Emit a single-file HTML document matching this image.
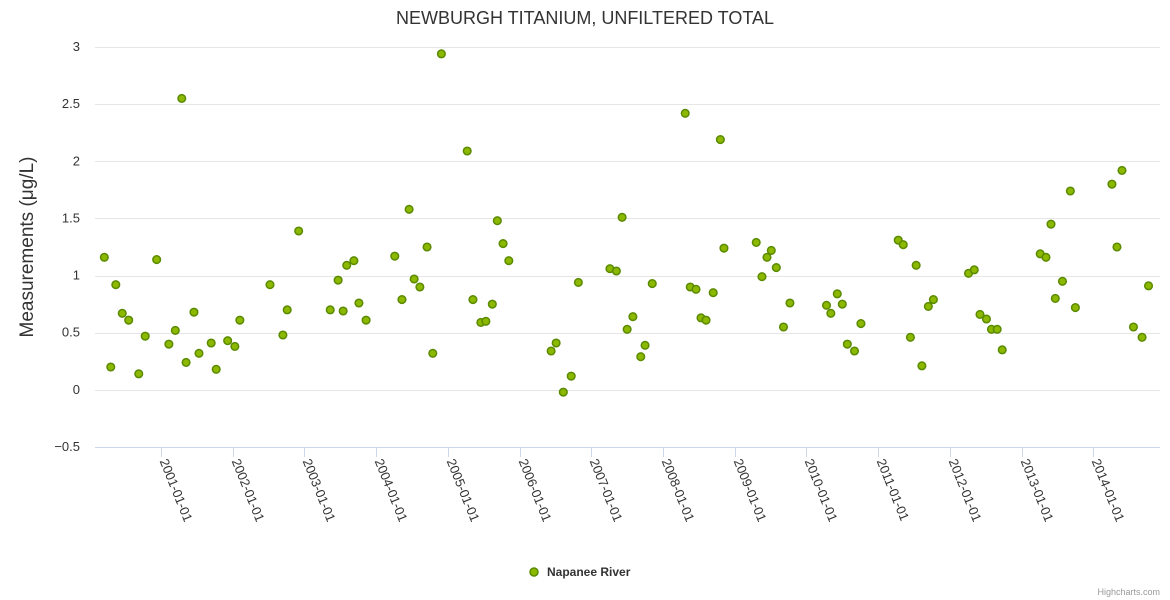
<!DOCTYPE html>
<html>
<head>
<meta charset="utf-8">
<style>
  html, body { margin: 0; padding: 0; background: #fff; }
  svg { display: block; font-family: "Liberation Sans", "DejaVu Sans", sans-serif; }
</style>
</head>
<body>
<svg id="chart" width="1170" height="600" viewBox="0 0 1170 600" xmlns="http://www.w3.org/2000/svg">
  <text x="585" y="24" text-anchor="middle" font-size="18" fill="#333">NEWBURGH TITANIUM, UNFILTERED TOTAL</text>
  <g id="grid"></g>
  <g id="yaxis"></g>
  <g id="xaxis"></g>
  <text transform="translate(33,247) rotate(-90)" text-anchor="middle" font-size="19" fill="#333">Measurements (μg/L)</text>
  <g id="points"></g>
  <g>
    <circle cx="534" cy="572" r="4" fill="#8cb800" stroke="#5a8a00" stroke-width="1.5"></circle>
    <text x="547" y="576" font-size="12" font-weight="bold" fill="#333">Napanee River</text>
  </g>
  <text x="1160" y="595" text-anchor="end" font-size="9" fill="#999">Highcharts.com</text>
</svg>
<script>
const years = [2000.21,2000.30,2000.37,2000.46,2000.55,2000.69,2000.78,2000.94,2001.11,2001.20,2001.29,2001.35,2001.46,2001.53,2001.70,2001.77,2001.93,2002.03,2002.10,2002.52,2002.70,2002.76,2002.92,2003.36,2003.47,2003.54,2003.59,2003.69,2003.76,2003.86,2004.26,2004.36,2004.46,2004.53,2004.61,2004.71,2004.79,2004.91,2005.27,2005.35,2005.46,2005.53,2005.62,2005.69,2005.77,2005.85,2006.44,2006.51,2006.61,2006.72,2006.82,2007.26,2007.35,2007.43,2007.50,2007.58,2007.69,2007.75,2007.85,2008.31,2008.38,2008.46,2008.53,2008.60,2008.70,2008.80,2008.85,2009.30,2009.38,2009.45,2009.51,2009.58,2009.68,2009.77,2010.28,2010.34,2010.43,2010.50,2010.57,2010.67,2010.76,2011.28,2011.35,2011.45,2011.53,2011.61,2011.70,2011.77,2012.26,2012.34,2012.42,2012.51,2012.58,2012.66,2012.73,2013.26,2013.34,2013.41,2013.47,2013.57,2013.68,2013.75,2014.26,2014.33,2014.40,2014.56,2014.68,2014.77];
const values = [1.16,0.2,0.92,0.67,0.61,0.14,0.47,1.14,0.4,0.52,2.55,0.24,0.68,0.32,0.41,0.18,0.43,0.38,0.61,0.92,0.48,0.70,1.39,0.70,0.96,0.69,1.09,1.13,0.76,0.61,1.17,0.79,1.58,0.97,0.90,1.25,0.32,2.94,2.09,0.79,0.59,0.60,0.75,1.48,1.28,1.13,0.34,0.41,-0.02,0.12,0.94,1.06,1.04,1.51,0.53,0.64,0.29,0.39,0.93,2.42,0.90,0.88,0.63,0.61,0.85,2.19,1.24,1.29,0.99,1.16,1.22,1.07,0.55,0.76,0.74,0.67,0.84,0.75,0.40,0.34,0.58,1.31,1.27,0.46,1.09,0.21,0.73,0.79,1.02,1.05,0.66,0.62,0.53,0.53,0.35,1.19,1.16,1.45,0.80,0.95,1.74,0.72,1.80,1.25,1.92,0.55,0.46,0.91];
const yTicks = [-0.5,0,0.5,1,1.5,2,2.5,3];
const xTickYears = [2001,2002,2003,2004,2005,2006,2007,2008,2009,2010,2011,2012,2013,2014];

const NS = "http://www.w3.org/2000/svg";
const plotL = 95, plotR = 1160, plotT = 47, plotB = 447;
const xMin = 2000.08, xMax = 2014.93, yMin = -0.5, yMax = 3;
function xs(v){ return plotL + (v - xMin) / (xMax - xMin) * (plotR - plotL); }
function ys(v){ return plotB - (v - yMin) / (yMax - yMin) * (plotB - plotT); }
function mk(tag, attrs){ const e = document.createElementNS(NS, tag); for (const k in attrs) e.setAttribute(k, attrs[k]); return e; }

const grid = document.getElementById('grid');
const yaxis = document.getElementById('yaxis');
yTicks.forEach(t => {
  const y = Math.round(ys(t)) + 0.5;
  const ln = mk('line', {x1: plotL, x2: plotR, y1: y, y2: y, stroke: t === yMin ? '#ccd6eb' : '#e6e6e6', 'stroke-width': 1});
  
  
  grid.appendChild(ln);
  const tx = mk('text', {x: 80, y: ys(t) + 4, 'text-anchor': 'end', 'font-size': 13, fill: '#333'});
  tx.textContent = t === 0 ? '0' : (t < 0 ? '−' + Math.abs(t) : String(t));
  
  
  yaxis.appendChild(tx);
});

const xaxis = document.getElementById('xaxis');
xTickYears.forEach(yr => {
  const x = Math.round(xs(yr)) + 0.5;
  const tk = mk('line', {x1: x, x2: x, y1: plotB, y2: plotB + 10, stroke: '#ccd6eb', 'stroke-width': 1});
  
  
  xaxis.appendChild(tk);
  const tx = mk('text', {x: 0, y: 0, 'font-size': 13, fill: '#333', transform: 'translate(' + (x - 2) + ',' + (plotB + 14) + ') rotate(68)'});
  tx.textContent = yr + '-01-01';
  
  
  xaxis.appendChild(tx);
});

const pts = document.getElementById('points');
years.forEach((yr, i) => {
  const c = mk('circle', {cx: xs(yr), cy: ys(values[i]), r: 3.8, fill: '#8cb800', stroke: '#5a8a00', 'stroke-width': 1.5});
  
  
  pts.appendChild(c);
});
</script>
</body>
</html>
